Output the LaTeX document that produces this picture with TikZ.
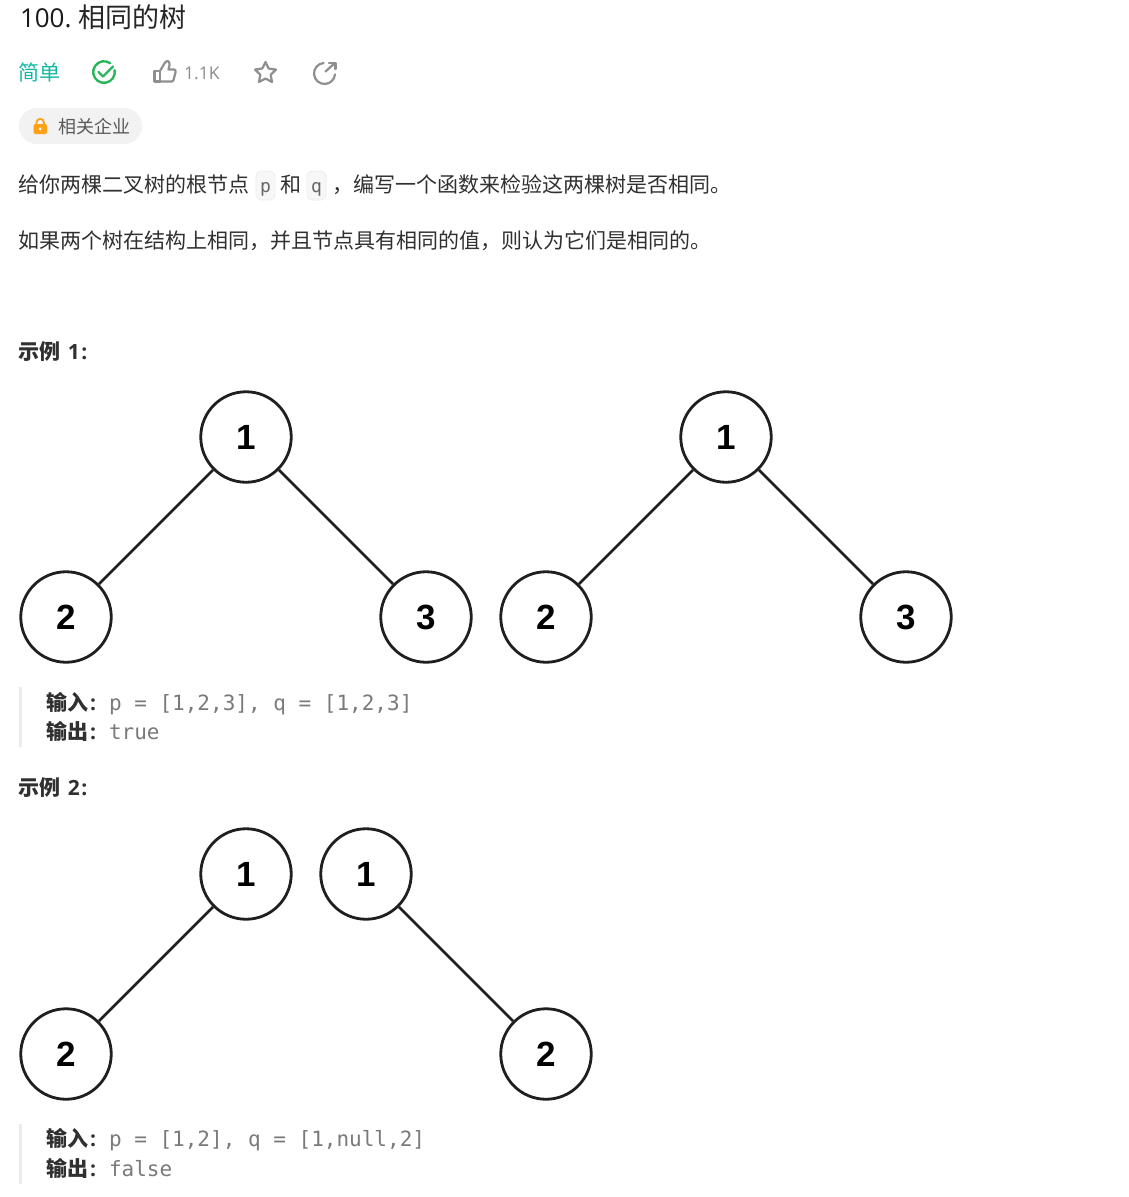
\documentclass[tikz,border=0pt]{standalone}
\usepackage{fontspec}
\setmainfont{Noto Sans CJK SC}
\newfontfamily\latinf{Open Sans}
\newfontfamily\monof{DejaVu Sans Mono}
\newfontfamily\digitf{Liberation Sans}
\newcommand{\fsz}[1]{\fontsize{#1}{#1}\selectfont}
\definecolor{body}{HTML}{303030}
\definecolor{codegray}{HTML}{7A7A7A}
\definecolor{icongray}{HTML}{8F8F8F}
\definecolor{easy}{HTML}{14B8A6}
\definecolor{okgreen}{HTML}{2DB55D}
\definecolor{lockc}{HTML}{FFA116}
\tikzset{
  x=1pt,y=-1pt,
  txt/.style={anchor=base west,inner sep=0pt,outer sep=0pt,text=body,font=\fsz{21}},
  boldtxt/.style={txt,font=\fsz{21}\bfseries},
  codetxt/.style={anchor=base west,inner sep=0pt,outer sep=0pt,text=codegray,font=\monof\fsz{21}},
  chiptxt/.style={codetxt,font=\monof\fsz{18},text=black!60},
  tree/.style={circle,draw=black!88,line width=2.8pt,fill=white,minimum size=90.5pt,inner sep=0pt,text=black},
  treenum/.style={inner sep=0pt,font=\digitf\bfseries\fsz{35},text=black},
  edge/.style={draw=black!88,line width=2.8pt},
  chip/.style={draw=black!7,fill=black!3,line width=.8pt,rounded corners=5pt},
  icon/.style={draw=icongray,line width=2.2pt,line join=round,line cap=round},
  okicon/.style={draw=okgreen,line width=2.4pt,line cap=round,line join=round},
  bar/.style={fill=black!8,draw=none},
}
\newcommand{\ascii}[1]{{\latinf\bfseries #1}}
\newcommand{\treenode}[3]{\node[tree] (#1) at (#2) {}; \node[treenum] (#1num) at (#2) {#3};}
\begin{document}
\begin{tikzpicture}
\useasboundingbox (0,0) rectangle (1128,1197);
\fill[white] (0,0) rectangle (1128,1197);

% header
\node[txt,font=\latinf\fsz{26},text=black!90] (titlenum) at (20,27) {100.};
\node[txt,font=\fsz{27},text=black!85] (title) at (78,27) {相同的树};
\node[txt,text=easy] (level) at (19,80) {简单};

% check icon
\draw[okicon] (110.2,63.2) arc[start angle=-55,end angle=-370,radius=10.8];
\draw[okicon] (98.5,72) -- (103,76.5) -- (113,66.5);

% thumb icon
\draw[icon] (154.5,71) -- (160,71) -- (160,81.5) -- (154.5,81.5) -- cycle;
\draw[icon] (160,71) -- (165,62.5) .. controls (167,60) and (170,61) .. (169.5,65) -- (168.5,69.5)
  -- (174,69.5) .. controls (175.5,69.5) and (176,71) .. (175.5,72.5) -- (173.5,80) .. controls (173,81.5) and (172,81.5) .. (171,81.5) -- (160,81.5);
\node[anchor=base west,inner sep=0pt,font=\latinf\fsz{17.5},text=black!45] (likes) at (184,79) {1.1K};

% star icon
\draw[icon] (265.5,62) -- (268.7,68.5) -- (276,69.6) -- (270.7,74.7) -- (272,82)
  -- (265.5,78.5) -- (259,82) -- (260.3,74.7) -- (255,69.6) -- (262.3,68.5) -- cycle;

% share icon
\draw[icon] (323.6,63) arc[start angle=-95,end angle=-355,radius=10.5];
\draw[icon] (325.5,71.5) -- (335,63);
\draw[icon] (329,63) -- (335.5,63) -- (335.5,69);

% tag
\fill[black!5,rounded corners=18pt] (19,108) rectangle (142,144);
\fill[lockc,rounded corners=1.5pt] (33.5,124) rectangle (47,134);
\draw[lockc,line width=1.8pt] (36.5,124) -- (36.5,122.5) arc[start angle=180,end angle=360,radius=3.7] -- (43.9,124);
\fill[white] (40.2,129) circle[radius=1.5];
\node[txt,font=\fsz{18},text=black!65] (tag) at (58,133) {相关企业};

% description
\node[txt] (d1) at (19,192) {给你两棵二叉树的根节点};
\draw[chip] (256,171) rectangle (275,200);
\node[chiptxt] (pc) at (260,192) {p};
\node[txt] (d2) at (280,192) {和};
\draw[chip] (307,171) rectangle (326,200);
\node[chiptxt] (qc) at (311,192) {q};
\node[txt] (d3) at (332,192) {，};
\node[txt] (d4) at (353,192) {编写一个函数来检验这两棵树是否相同。};
\node[txt] (d5) at (19,248) {如果两个树在结构上相同，并且节点具有相同的值，则认为它们是相同的。};

% example 1
\node[boldtxt] (ex1) at (19,359) {示例\hspace{7pt}\ascii{1\hspace{1.5pt}:}};
\treenode{a1}{246,437}{1}
\treenode{a2}{66,617}{2}
\treenode{a3}{426,617}{3}
\draw[edge] (a1) -- (a2);
\draw[edge] (a1) -- (a3);
\treenode{b1}{726,437}{1}
\treenode{b2}{546,617}{2}
\treenode{b3}{906,617}{3}
\draw[edge] (b1) -- (b2);
\draw[edge] (b1) -- (b3);

\fill[bar] (19,687) rectangle (22,747);
\node[boldtxt] (in1) at (46,710) {输入\hspace{2pt}\ascii{:}};
\node[codetxt] (in1v) at (109,710) {p = [1,2,3], q = [1,2,3]};
\node[boldtxt] (out1) at (46,739) {输出\hspace{2pt}\ascii{:}};
\node[codetxt] (out1v) at (109,739) {true};

% example 2
\node[boldtxt] (ex2) at (19,795) {示例\hspace{7pt}\ascii{2\hspace{1.5pt}:}};
\treenode{c1}{246,874}{1}
\treenode{c2}{66,1054}{2}
\draw[edge] (c1) -- (c2);
\treenode{e1}{366,874}{1}
\treenode{e2}{546,1054}{2}
\draw[edge] (e1) -- (e2);

\fill[bar] (19,1124) rectangle (22,1184);
\node[boldtxt] (in2) at (46,1146) {输入\hspace{2pt}\ascii{:}};
\node[codetxt] (in2v) at (109,1146) {p = [1,2], q = [1,null,2]};
\node[boldtxt] (out2) at (46,1176) {输出\hspace{2pt}\ascii{:}};
\node[codetxt] (out2v) at (109,1176) {false};
\end{tikzpicture}
\end{document}
